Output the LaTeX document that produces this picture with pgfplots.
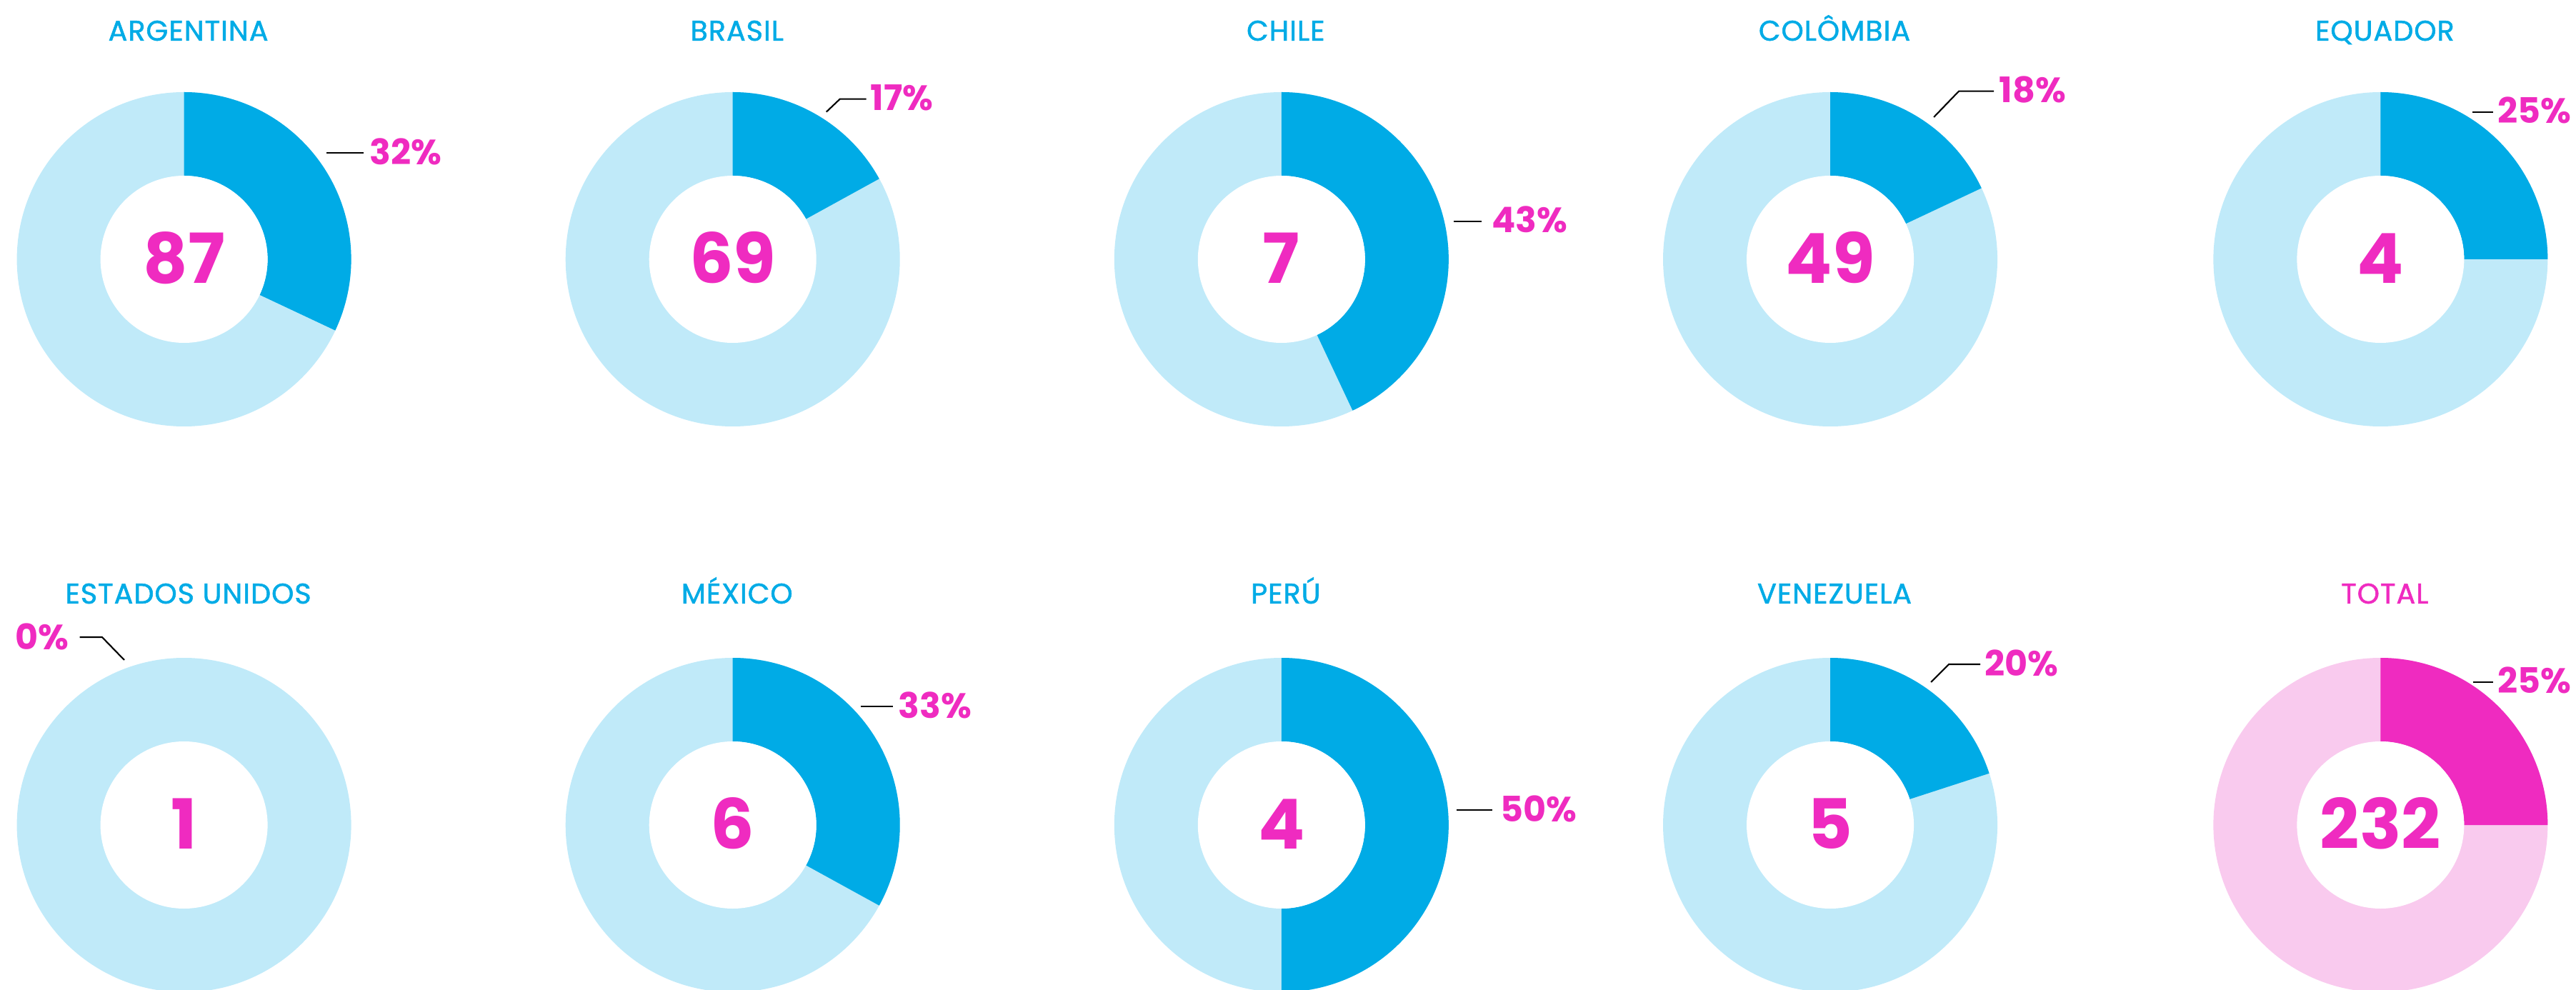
\documentclass[border=0pt]{standalone}
\usepackage{pgfplots}
\pgfplotsset{compat=1.18}
\usepackage{pgfplotstable}
\usepackage{fontspec}
\setmainfont{Poppins}
\newfontfamily\titlefont{Poppins}[FakeBold=1.4, LetterSpace=2.5]

\definecolor{azul}{HTML}{00ABE6}
\definecolor{azulclaro}{HTML}{C0EAF9}
\definecolor{rosa}{HTML}{EF2BC0}
\definecolor{rosaclaro}{HTML}{F9CAEE}

% donut mark: share \donutpct (%) drawn clockwise from 12 o'clock
\def\donutR{2.34cm}
\def\donutr{1.17cm}
\newcommand\declaredonut[3]{%
  \pgfdeclareplotmark{#1}{%
    \pgfsetfillcolor{#3}%
    \pgfpathcircle{\pgfpointorigin}{\donutR}%
    \pgfusepath{fill}%
    \ifdim\donutpct pt>0pt
      \pgfmathsetmacro\donutend{90-3.6*\donutpct}%
      \pgfsetfillcolor{#2}%
      \pgfpathmoveto{\pgfpointpolar{90}{\donutR}}%
      \pgfpatharc{90}{\donutend}{\donutR}%
      \pgfpathlineto{\pgfpointpolar{\donutend}{\donutr}}%
      \pgfpatharc{\donutend}{90}{\donutr}%
      \pgfpathclose
      \pgfusepath{fill}%
    \fi
    \pgfsetfillcolor{white}%
    \pgfpathcircle{\pgfpointorigin}{\donutr}%
    \pgfusepath{fill}%
  }%
}
\declaredonut{donutpais}{azul}{azulclaro}
\declaredonut{donuttotal}{rosa}{rosaclaro}

% centre x, centre y, title position, share (%), count
\pgfplotstableread{
cx      cy    tx      ty    pct  n    name
257.6   1022  263.6   1342  32   87   ARGENTINA
1025.7  1022  1031.7  1342  17   69   BRASIL
1793.8  1022  1799.8  1342  43   7    CHILE
2562.0  1022  2568.0  1342  18   49   COLÔMBIA
3332.3  1022  3338.3  1342  25   4    EQUADOR
257.6   230   263.6   554   0    1    {ESTADOS UNIDOS}
1025.7  230   1031.7  554   33   6    MÉXICO
1793.8  230   1799.8  554   50   4    PERÚ
2562.0  230   2568.0  554   20   5    VENEZUELA
}\paises
\pgfplotstableread{
cx      cy    tx      ty    pct  n    name
3332.3  230   3338.3  554   25   232  TOTAL
}\total

% percentage label positions (left end of the text)
\pgfplotstableread{
lx      ly      pct
516.6   1171.3  32
1218.0  1248.0  17
2087.8  1077.0  43
2798.0  1259.0  18
3496.0  1230.0  25
1257.0  397.0   33
2100.0  252.0   50
2778.0  456.0   20
3496.0  432.0   25
}\rotulos

\begin{document}
\begin{tikzpicture}
\begin{axis}[
    at={(0,0)}, anchor=south west,
    width=36.06cm, height=13.85cm, scale only axis,
    xmin=0, xmax=3606, ymin=0, ymax=1385,
    hide axis, clip=false,
    every node near coord/.append style={inner sep=0pt, text depth=0pt},
    leader/.style={black, solid, line width=0.6pt, mark=none},
]
% donuts
\addplot[only marks, mark=donutpais, visualization depends on={\thisrow{pct}\as\donutpct}]
    table[x=cx, y=cy] {\paises};
\addplot[only marks, mark=donuttotal, visualization depends on={\thisrow{pct}\as\donutpct}]
    table[x=cx, y=cy] {\total};

% counts in the centre
\addplot[draw=none, mark=none, point meta=explicit symbolic, nodes near coords,
    every node near coord/.append style={anchor=center, text=rosa, text height=19.2pt,
        font=\fontsize{27.5pt}{29pt}\selectfont\bfseries}]
    table[x=cx, y=cy, meta=n] {\paises};
\addplot[draw=none, mark=none, point meta=explicit symbolic, nodes near coords,
    every node near coord/.append style={anchor=center, text=rosa, text height=19.2pt,
        font=\fontsize{27.5pt}{29pt}\selectfont\bfseries}]
    table[x=cx, y=cy, meta=n] {\total};

% titles
\addplot[draw=none, mark=none, point meta=explicit symbolic, nodes near coords,
    every node near coord/.append style={anchor=center, text=azul, text height=7.9pt,
        font=\fontsize{11.3pt}{13pt}\titlefont}]
    table[x=tx, y=ty, meta=name] {\paises};
\addplot[draw=none, mark=none, point meta=explicit symbolic, nodes near coords,
    every node near coord/.append style={anchor=center, text=rosa, text height=7.9pt,
        font=\fontsize{11.3pt}{13pt}\titlefont}]
    table[x=tx, y=ty, meta=name] {\total};

% percentage labels
\addplot[draw=none, mark=none, point meta=explicit symbolic,
    nodes near coords={\pgfplotspointmeta\%},
    every node near coord/.append style={anchor=west, text=rosa, text height=9.8pt,
        font=\fontsize{14pt}{16pt}\selectfont\bfseries}]
    table[x=lx, y=ly, meta=pct] {\rotulos};
\addplot[draw=none, mark=none, point meta=explicit symbolic,
    nodes near coords={\pgfplotspointmeta\%},
    every node near coord/.append style={anchor=east, text=rosa, text height=9.8pt,
        font=\fontsize{14pt}{16pt}\selectfont\bfseries}]
    coordinates {(96.9,493) [0]};

% leader lines
\addplot[leader] coordinates {(457.2,1171.3) (508.6,1171.3)};
\addplot[leader] coordinates {(1156.7,1228.3) (1175.7,1246.3) (1212.7,1246.3)};
\addplot[leader] coordinates {(2034.8,1075) (2073.8,1075)};
\addplot[leader] coordinates {(2707,1221) (2742,1257.3) (2791,1257.3)};
\addplot[leader] coordinates {(3461,1228.3) (3490,1228.3)};
\addplot[leader] coordinates {(174,461) (142.9,493) (111.6,493)};
\addplot[leader] coordinates {(1204.7,396) (1250.4,396)};
\addplot[leader] coordinates {(2038.8,251) (2088.8,251)};
\addplot[leader] coordinates {(2703,430) (2728,455) (2772,455)};
\addplot[leader] coordinates {(3462,430.3) (3490,430.3)};
\end{axis}
\pgfresetboundingbox
\useasboundingbox (0,0) rectangle (36.06cm,13.85cm);
\end{tikzpicture}
\end{document}
